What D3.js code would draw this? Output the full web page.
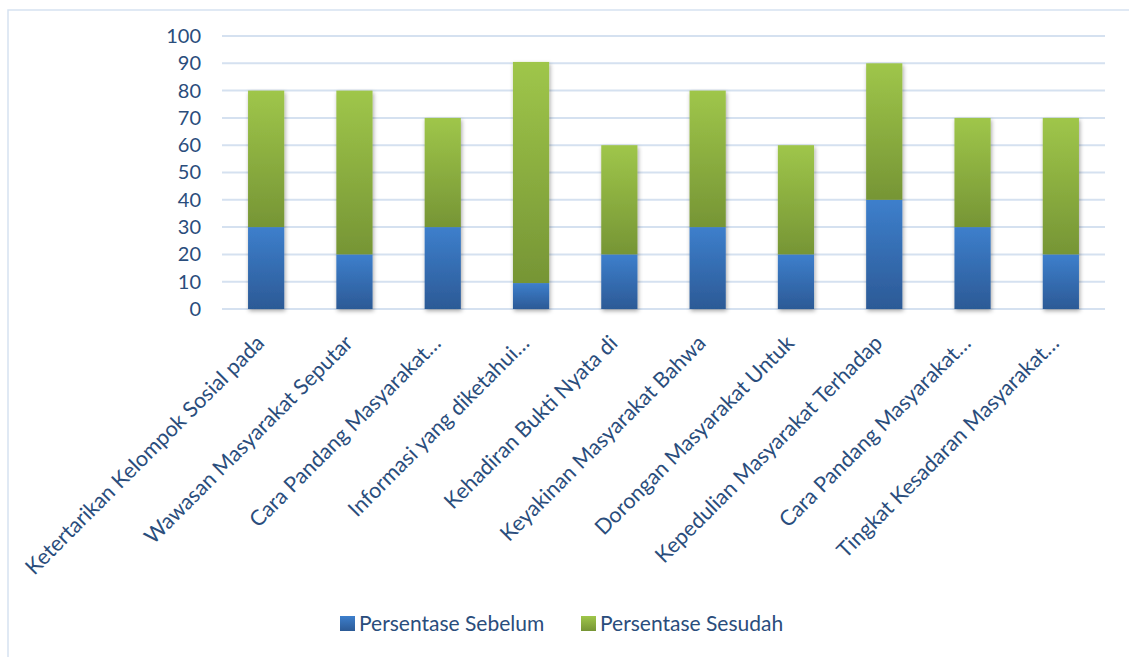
<!DOCTYPE html>
<html>
<head>
<meta charset="utf-8">
<script src="https://cdn.jsdelivr.net/npm/d3@7"></script>
<style>
  body { margin: 0; background: #fff; }
  svg { display: block; font-family: Lato, "Open Sans", sans-serif; }
</style>
</head>
<body>
<svg id="chart" width="1129" height="657"></svg>
<script>
"use strict";

// chart data
const categories = [
  "Ketertarikan Kelompok Sosial pada",
  "Wawasan Masyarakat Seputar",
  "Cara Pandang Masyarakat…",
  "Informasi yang diketahui…",
  "Kehadiran Bukti Nyata di",
  "Keyakinan Masyarakat Bahwa",
  "Dorongan Masyarakat Untuk",
  "Kepedulian Masyarakat Terhadap",
  "Cara Pandang Masyarakat…",
  "Tingkat Kesadaran Masyarakat…"
];
const sebelum = [30, 20, 30, 9.5, 20, 30, 20, 40, 30, 20];
const sesudah = [50, 60, 40, 81, 40, 50, 40, 50, 40, 50];
const seriesNames = ["Persentase Sebelum", "Persentase Sesudah"];
const yTicks = [0, 10, 20, 30, 40, 50, 60, 70, 80, 90, 100];

const w = 1129;
const h = 657;
const margin = { left: 222, right: 24, top: 36, bottom: 348 };
const textColor = "#2a4d7c";

const svg = d3.select("#chart");

// gradients + shadow
const defs = svg.append("defs");
const grad = (id, top, bottom) => {
  const g = defs.append("linearGradient").attr("id", id)
    .attr("x1", 0).attr("y1", 0).attr("x2", 0).attr("y2", 1);
  g.append("stop").attr("offset", "0%").attr("stop-color", top);
  g.append("stop").attr("offset", "100%").attr("stop-color", bottom);
};
grad("gBlue", "#3d7fcc", "#2c5a96");
grad("gGreen", "#9fc64a", "#769535");
const f = defs.append("filter").attr("id", "shadow")
  .attr("x", "-20%").attr("y", "-5%").attr("width", "150%").attr("height", "115%");
f.append("feDropShadow").attr("dx", 1).attr("dy", 2).attr("stdDeviation", 2)
  .attr("flood-color", "#000").attr("flood-opacity", 0.35);

// chart frame
svg.append("rect")
  .attr("x", 8).attr("y", 10).attr("width", w + 20).attr("height", h + 20)
  .attr("fill", "none").attr("stroke", "#d6e2f1").attr("stroke-width", 1.5);

const data = categories.map((c, i) => ({ i, cat: c, sebelum: sebelum[i], sesudah: sesudah[i] }));

const xScale = d3.scaleBand()
  .domain(data.map(d => d.i))
  .range([margin.left, w - margin.right])
  .paddingInner(0.59).paddingOuter(0.295);

const yScale = d3.scaleLinear()
  .domain([0, 100])
  .range([h - margin.bottom, margin.top]);

// gridlines
svg.append("g")
  .selectAll("line")
  .data(yTicks)
  .enter()
  .append("line")
  .attr("x1", margin.left).attr("x2", w - margin.right)
  .attr("y1", d => yScale(d)).attr("y2", d => yScale(d))
  .attr("stroke", "#d5e1f0").attr("stroke-width", 2);

// y axis
const yAxis = d3.axisLeft(yScale).tickValues(yTicks).tickSize(0).tickPadding(0);
svg.append("g")
  .attr("transform", "translate(201,0)")
  .call(yAxis)
  .call(g => g.select(".domain").remove())
  .selectAll("text")
  .attr("fill", textColor)
  .style("font-size", "20px")
  .style("font-family", "Lato, sans-serif");

// stacked bars
const stack = d3.stack().keys(["sebelum", "sesudah"]);
const layers = stack(data);
const fills = ["url(#gBlue)", "url(#gGreen)"];

const barG = svg.append("g").attr("filter", "url(#shadow)");
layers.forEach((layer, k) => {
  barG.append("g")
    .selectAll("rect")
    .data(layer)
    .enter()
    .append("rect")
    .attr("x", d => xScale(d.data.i))
    .attr("width", xScale.bandwidth())
    .attr("y", d => yScale(d[1]))
    .attr("height", d => yScale(d[0]) - yScale(d[1]))
    .attr("fill", fills[k]);
});

// category labels
const xAxis = d3.axisBottom(xScale).tickSize(0).tickFormat(i => categories[i]);
svg.append("g")
  .attr("transform", `translate(0, ${yScale(0) + 10})`)
  .call(xAxis)
  .call(g => g.select(".domain").remove())
  .selectAll("text")
  .attr("fill", textColor)
  .style("font-size", "21.5px")
  .style("font-family", "Lato, sans-serif")
  .attr("text-anchor", "end")
  .attr("dy", "0.75em")
  .attr("transform", "translate(-14,12) rotate(-45)");

// legend
const legend = svg.append("g").attr("transform", "translate(340, 616)");
const legendX = [0, 241];
seriesNames.forEach((name, k) => {
  const lg = legend.append("g").attr("transform", `translate(${legendX[k]},0)`);
  lg.append("rect").attr("width", 15).attr("height", 15).attr("fill", k === 0 ? "url(#gBlue)" : "url(#gGreen)");
  lg.append("text").attr("x", 19).attr("y", 15)
    .attr("fill", textColor).style("font-size", "21px").text(name);
});
</script>
</body>
</html>
